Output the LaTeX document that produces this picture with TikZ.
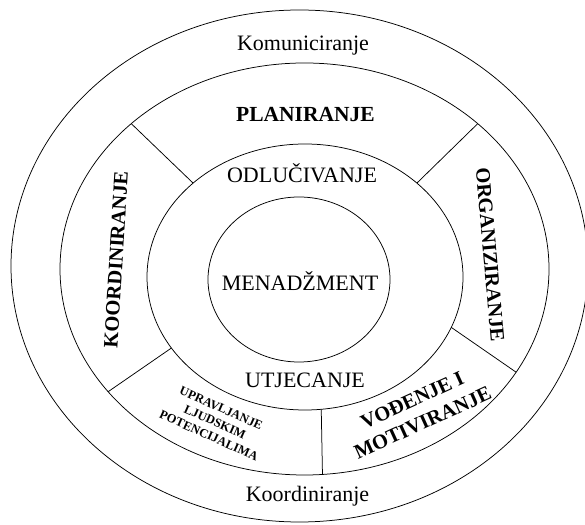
\documentclass[tikz,border=0pt]{standalone}
\usepackage{fontspec}
\setmainfont{Liberation Serif}
\usetikzlibrary{shapes.geometric}
\tikzset{
  ring/.style={ellipse, draw=black, line width=0.75pt, inner sep=0pt, outer sep=0pt},
  divider/.style={draw=black, line width=0.75pt},
  lbl/.style={font=\fontsize{22}{24}\selectfont, inner sep=0pt, anchor=base},
  blbl/.style={font=\fontsize{20.5}{25}\selectfont\bfseries, inner sep=0pt},
  slbl/.style={font=\fontsize{12.5}{15}\selectfont\bfseries, inner sep=0pt, align=center}
}
\begin{document}
\begin{tikzpicture}[x=1pt,y=1pt]
\useasboundingbox (0,0) rectangle (585,524);
% rings
\node[ring, minimum width=577pt, minimum height=512pt] (outer) at (299.5,258) {};
\node[ring, minimum width=489pt, minimum height=412pt] (ring2) at (304.5,255) {};
\node[ring, minimum width=316pt, minimum height=266pt] (ring3) at (305,247) {};
\node[ring, minimum width=182pt, minimum height=165pt] (inner) at (299,244.5) {};
% dividers
\draw[divider] (ring2.140) -- (ring3.140);
\draw[divider] (ring2.40) -- (ring3.40);
\draw[divider] (ring3.-19) -- (ring2.-26);
\draw[divider] (ring3.208.4) -- (ring2.212);
\draw[divider] (ring3.-83.6) -- (ring2.-85.7);
% labels
\node[lbl] (komu) at (303,473) {Komuniciranje};
\node[blbl, font=\fontsize{21.5}{24}\selectfont\bfseries, anchor=base] (plan) at (305.5,402) {PLANIRANJE};
\node[lbl] (odl) at (302,341) {ODLUČIVANJE};
\node[lbl] (men) at (300,233) {MENADŽMENT};
\node[lbl] (utj) at (305,136) {UTJECANJE};
\node[lbl] (koor) at (307.5,22.3) {Koordiniranje};
\node[blbl, rotate=86.5] (koorb) at (116,264.5) {KOORDINIRANJE};
\node[blbl, rotate=-85] (org) at (490,269.5) {ORGANIZIRANJE};
\node[blbl, rotate=24.5, align=center] (vod) at (417.5,112.5) {VOĐENJE I\\MOTIVIRANJE};
\node[slbl, rotate=-24] (upr) at (215,102) {UPRAVLJANJE\\LJUDSKIM\\POTENCIJALIMA};
\end{tikzpicture}
\end{document}
